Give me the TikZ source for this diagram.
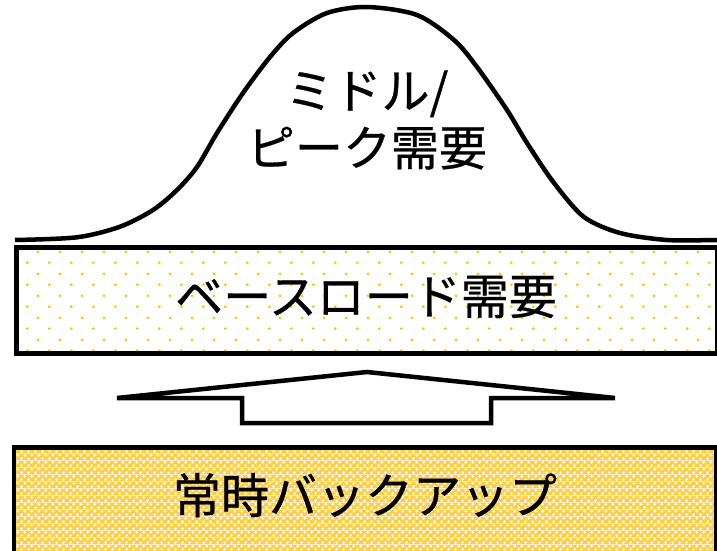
\documentclass[tikz,border=0pt]{standalone}
\usepackage{fontspec}
\newfontfamily\jpfont[FakeBold=0.6]{Noto Sans CJK JP}
\usetikzlibrary{patterns.meta}
\definecolor{dotgold}{RGB}{255,192,0}
\definecolor{meshyel}{RGB}{255,206,70}
\tikzdeclarepattern{
  name=golddots, type=colored,
  bottom left={(0pt,0pt)}, top right={(21.7pt,21.7pt)},
  tile size={(21.7pt,21.7pt)},
  code={\fill[dotgold] (5.4pt,5.4pt) circle (1.45pt);
        \fill[dotgold] (16.25pt,16.25pt) circle (1.45pt);}
}
\tikzdeclarepattern{
  name=yelmesh, type=colored,
  bottom left={(0pt,0pt)}, top right={(6.6pt,6.6pt)},
  tile size={(6.6pt,6.6pt)},
  code={\fill[meshyel] (0pt,0pt) rectangle (6.6pt,6.6pt);
        \fill[white] (1.65pt,1.65pt) circle (1.55pt);
        \fill[white] (4.95pt,4.95pt) circle (1.55pt);}
}
\begin{document}
\begin{tikzpicture}[x=1pt,y=-1pt,
  jtext/.style={font=\jpfont\fontsize{48}{57}\selectfont, align=center, inner sep=0pt},
  outline/.style={draw=black, line width=4.5pt}]
\useasboundingbox (0,0) rectangle (717,551);
% bell curve
\draw[line width=4.5pt, line cap=butt] plot[smooth, tension=0.5] coordinates {
  (15,240) (77,237.3) (120,226.7) (153,210) (177,190) (197,167) (217,133)
  (243,93) (270,57) (293,33) (327,13) (367,7) (417,15) (454,40) (477,67)
  (507,110) (527,143) (554,183) (584,217) (620,233) (667,240) (717,240) (730,240)};
\node[jtext] (peak) at (367,120) {ミドル/\\ピーク需要};
% base load box
\node[outline, pattern=golddots, minimum width=701pt, minimum height=106pt,
      anchor=north west, inner sep=0pt] (base) at (14,245) {};
\node[jtext] (basetext) at (366,297) {ベースロード需要};
% arrow
\draw[line width=4.5pt] (117,398) -- (367,372) -- (615,398) -- (491,398)
  -- (491,423) -- (242,423) -- (242,398) -- cycle;
% backup box
\path[pattern=yelmesh] (14,447.5) rectangle (716,580);
\draw[outline] (14,580) -- (14,447.5) -- (716,447.5) -- (716,580);
\node[jtext] (backup) at (365,495) {常時バックアップ};
\end{tikzpicture}
\end{document}
